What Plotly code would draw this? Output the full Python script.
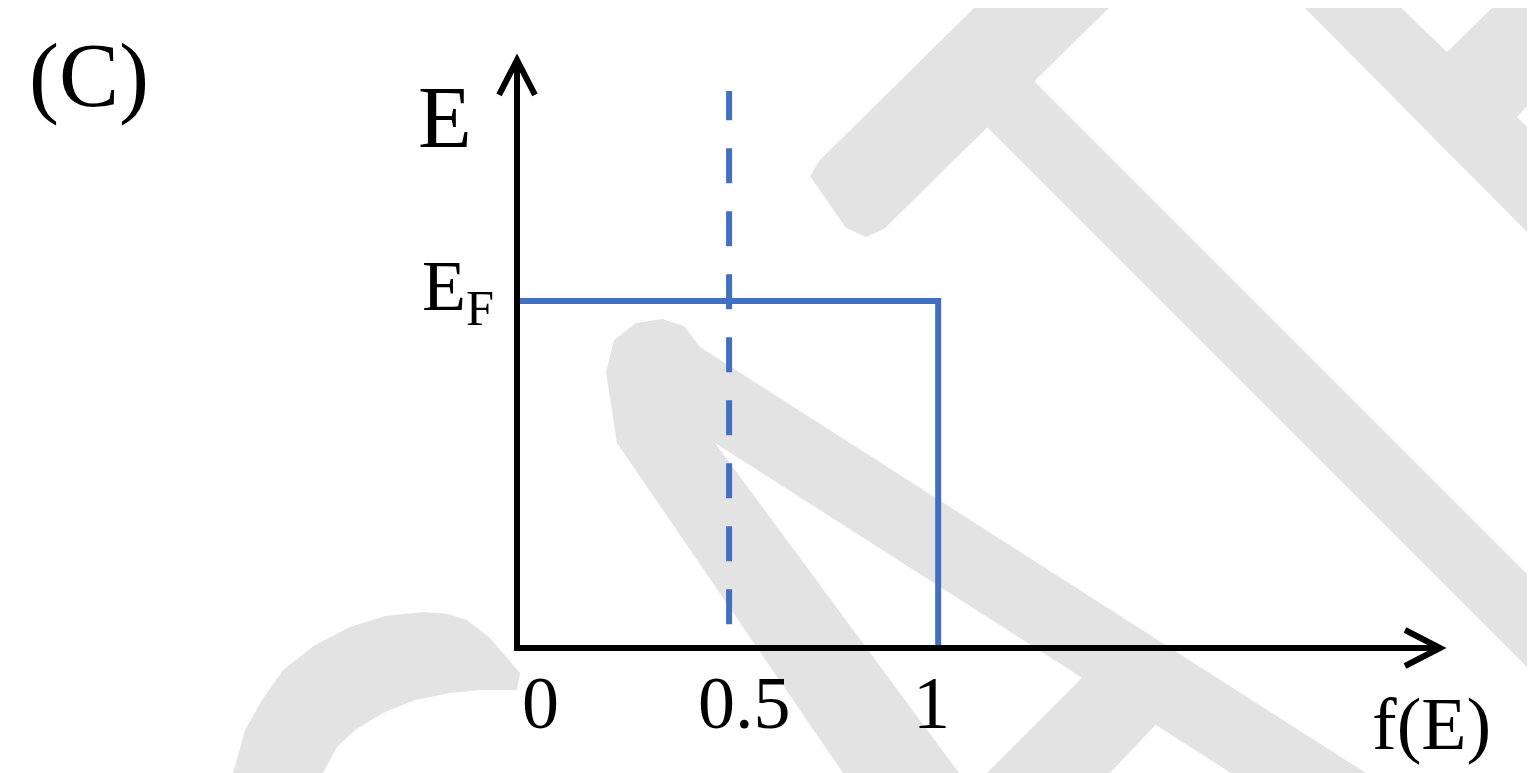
import plotly.graph_objects as go

# ---------------------------- Data --------------------------------------------------- #

# step occupation at T = 0 (energy in units of E_F)
occupancy = [0, 1, 1]
energy = [1, 1, 0]

# dashed guide at f = 0.5
half_occ = [0.5, 0.5]
half_energy = [0.06, 1.61]

x_ticks = [0, 0.5, 1]
x_tick_text = ["0", "0.5", "1"]
e_fermi = 1

x_end = 2.2
y_end = 1.7

# ---------------------------- Page geometry ------------------------------- #

W, H = 1535, 773
OFF = 8          # the page body adds 8px around the plot div
AXIS_LW = 6

# plot area in screen pixels
LEFT, RIGHT, BOTTOM, TOP = 520, 1440, 645, 60
X_DOM = [(LEFT - OFF) / W, (RIGHT - OFF) / W]
Y_DOM = [1 - (BOTTOM - OFF) / H, 1 - (TOP - OFF) / H]

BLUE = "#4170c0"
GREY = "#e3e3e3"
SERIF = "Liberation Serif"


def paper(xs, ys):
    # screen pixel position -> paper coords
    return (xs - OFF) / W, 1 - (ys - OFF) / H


def poly(points):
    pts = [paper(x, y) for x, y in points]
    return "M " + " L ".join(f"{x:.4f},{y:.4f}" for x, y in pts) + " Z"


def polyline(points):
    pts = [paper(x, y) for x, y in points]
    return "M " + " L ".join(f"{x:.4f},{y:.4f}" for x, y in pts)


# ---------------------------- Watermark in the background ------------------------------- #

watermark = [
    [(810, 176), (820, 160), (982, 0), (1117, 0), (884, 229), (866, 237), (846, 228)],
    [(1010, 57), (1535, 582), (1535, 675), (960, 100)],
    [(1297, 0), (1393, 0), (1447, 52), (1500, 0), (1535, 0), (1535, 97), (1517, 117),
     (1535, 135), (1535, 240)],
    [(606, 372), (614, 340), (636, 323), (662, 319), (684, 326), (700, 347), (1366, 773),
     (1231, 773), (715, 443), (959, 773), (843, 773), (617, 443)],
    [(987, 773), (1095, 665), (1165, 715), (1110, 773)],
    [(233, 773), (245, 730), (262, 700), (283, 670), (315, 645), (350, 627), (385, 616),
     (423, 612), (448, 614), (467, 620), (490, 638), (520, 673), (517, 690), (480, 690),
     (450, 693), (415, 700), (383, 713), (355, 730), (337, 747), (323, 773)],
]

shapes = [dict(type="path", path=poly(p), xref="paper", yref="paper",
               fillcolor=GREY, line=dict(width=0), layer="below") for p in watermark]

# arrow heads on both axes (axis lines sit half a line width outside the plot area)
tip_x = (RIGHT, BOTTOM + AXIS_LW / 2)
tip_y = (LEFT - AXIS_LW / 2, TOP)
heads = [
    [(tip_x[0] - 35, tip_x[1] - 18), tip_x, (tip_x[0] - 35, tip_x[1] + 18)],
    [(tip_y[0] - 18, tip_y[1] + 35), tip_y, (tip_y[0] + 18, tip_y[1] + 35)],
]
for h in heads:
    shapes.append(dict(type="path", path=polyline(h), xref="paper", yref="paper",
                       line=dict(color="black", width=AXIS_LW)))

# ---------------------------- Figure ------------------------------- #

fig = go.Figure()

fig.add_trace(go.Scatter(x=half_occ, y=half_energy, mode="lines",
                         line=dict(color=BLUE, width=6, dash="35px,28px"),
                         hoverinfo="skip"))
fig.add_trace(go.Scatter(x=occupancy, y=energy, mode="lines",
                         line=dict(color=BLUE, width=6),
                         hoverinfo="skip"))

annotations = []
tick_nudge = [20, 15, -7]
for val, txt, dx in zip(x_ticks, x_tick_text, tick_nudge):
    annotations.append(dict(x=val, y=0, xref="x", yref="y", text=txt, showarrow=False,
                            xanchor="center", yanchor="middle", xshift=dx, yshift=-58,
                            font=dict(family=SERIF, size=74, color="black")))

cx, cy = paper(89, 76)
annotations += [
    dict(x=x_end, y=0, xref="x", yref="y", text="f(E)", showarrow=False,
         xanchor="center", yanchor="middle", xshift=-9, yshift=-79,
         font=dict(family=SERIF, size=74, color="black")),
    dict(x=0, y=y_end, xref="x", yref="y", text="E", showarrow=False,
         xanchor="center", yanchor="middle", xshift=-75, yshift=-57,
         font=dict(family=SERIF, size=88, color="black")),
    dict(x=0, y=e_fermi, xref="x", yref="y", text="E<sub>F</sub>", showarrow=False,
         xanchor="right", yanchor="middle", xshift=-24, yshift=10,
         font=dict(family=SERIF, size=72, color="black")),
    dict(x=cx, y=cy, xref="paper", yref="paper", text="(C)", showarrow=False,
         xanchor="center", yanchor="middle",
         font=dict(family=SERIF, size=90, color="black")),
]

fig.update_layout(
    width=W, height=H, autosize=False,
    margin=dict(l=0, r=0, t=0, b=0),
    paper_bgcolor="white", plot_bgcolor="rgba(0,0,0,0)",
    showlegend=False,
    shapes=shapes,
    annotations=annotations,
    xaxis=dict(domain=X_DOM, range=[0, x_end], showline=True, linewidth=AXIS_LW, linecolor="black",
               showgrid=False, zeroline=False, showticklabels=False, ticks="", fixedrange=True),
    yaxis=dict(domain=Y_DOM, range=[0, y_end], showline=True, linewidth=AXIS_LW, linecolor="black",
               showgrid=False, zeroline=False, showticklabels=False, ticks="", fixedrange=True),
)

fig.write_html("out.html")
